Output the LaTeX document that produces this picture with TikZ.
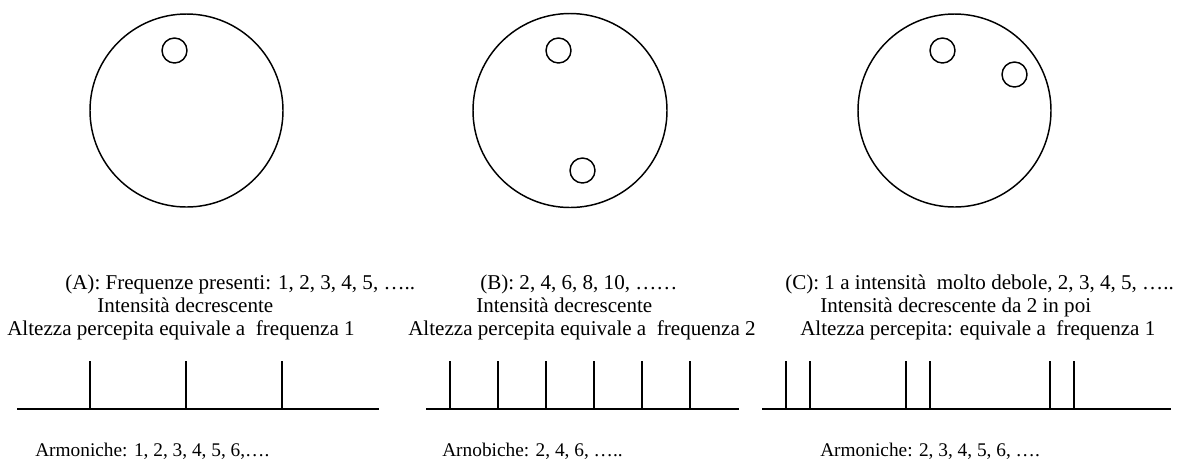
\documentclass[tikz,border=0pt]{standalone}
\usepackage{fontspec}
\setmainfont{Liberation Serif}
\begin{document}
\begin{tikzpicture}[x=0.75pt, y=-0.75pt, line join=round, font=\fontsize{14.5}{17}\selectfont,
  lbl/.style={anchor=base west, inner sep=0pt},
  head/.style={lbl, font=\fontsize{15.8}{19}\selectfont},
  disc/.style={line width=1.1pt},
  tick/.style={line width=1.1pt},
  axis/.style={line width=1.5pt}]
\useasboundingbox (0,0) rectangle (1189,462);
% sorgenti
\draw[disc] (186.5,110.5) circle (96.5) (174.5,50.5) circle (12.5);
\draw[disc] (570,110.5) circle (97) (558.5,50.5) circle (12.5) (582.5,170.5) circle (12.5);
\draw[disc] (954.5,110.5) circle (96.5) (942.5,50.5) circle (12.5) (1014.5,74.5) circle (12.5);
\path
(65,289) node[head] (a1) {(A): Frequenze presenti: 1, 2, 3, 4, 5, …..}
(97,312) node[head] (a2) {Intensità decrescente}
(7,335) node[head] (a3) {Altezza percepita equivale a\ \ frequenza 1}
(480,289) node[head] (b1) {(B): 2, 4, 6, 8, 10, ……}
(476,312) node[head] (b2) {Intensità decrescente}
(408,335) node[head] (b3) {Altezza percepita equivale a\ \ frequenza 2}
(785,289) node[head] (c1) {(C): 1 a intensità\ \ molto debole, 2, 3, 4, 5, …..}
(820,312) node[head] (c2) {Intensità decrescente da 2 in poi}
(800,335) node[head] (c3) {Altezza percepita: equivale a\ \ frequenza 1}
(35,456) node[lbl] (a4) {Armoniche: 1, 2, 3, 4, 5, 6,….}
(442,456) node[lbl] (b4) {Arnobiche: 2, 4, 6, …..}
(820,456) node[lbl] (c4) {Armoniche: 2, 3, 4, 5, 6, ….};
% spettri
\draw[axis] (17,409)--(379,409);
\draw[axis] (426,409)--(739,409);
\draw[axis] (762,409)--(1171,409);
\foreach \x in {90,186,282} \draw[tick] (\x,409)--(\x,361);
\foreach \x in {450,498,546,594,642,690} \draw[tick] (\x,409)--(\x,361);
\foreach \x in {786,810,906,930,1050,1074} \draw[tick] (\x,409)--(\x,361);
\end{tikzpicture}
\end{document}
